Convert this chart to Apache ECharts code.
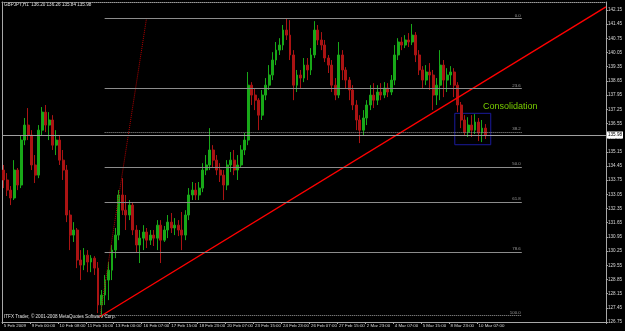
<!DOCTYPE html>
<html>
<head>
<meta charset="utf-8">
<script src="https://cdn.jsdelivr.net/npm/echarts@6/dist/echarts.min.js"></script>
<style>
html,body{margin:0;padding:0;background:#000;}
#chart{width:625px;height:331px;}
</style>
</head>
<body>
<div id="chart"></div>
<script>
// ---- data (GBPJPY H1, shown here as 4-hour candles) ----
const title = "GBPJPY,H1  136.20 136.26 135.84 135.98";
const copyright = "ITFX Trader, \u00A9 2001-2008 MetaQuotes Software Corp.";
const xTickLabels = ["5 Feb 2009","9 Feb 00:00","10 Feb 08:00","11 Feb 16:00","13 Feb 00:00","16 Feb 07:00","17 Feb 15:00","18 Feb 23:00","20 Feb 07:00","23 Feb 15:00","24 Feb 23:00","26 Feb 07:00","27 Feb 15:00","2 Mar 23:00","4 Mar 07:00","5 Mar 15:00","8 Mar 23:00","10 Mar 07:00"];
const yTickValues = [126.75,127.45,128.15,128.85,129.55,130.25,130.95,131.65,132.35,133.05,133.75,134.45,135.15,135.85,136.55,137.25,137.95,138.65,139.35,140.05,140.75,141.45,142.15];

const opens = [134.25,133.76,133.26,132.87,134.25,133.51,135.73,136.47,135.98,134.50,
134.00,136.22,137.11,136.47,136.72,135.48,135.73,134.74,134.25,132.03,
131.04,131.29,129.81,129.56,130.05,129.71,129.90,129.41,127.59,128.08,
128.82,129.31,130.30,131.04,133.02,132.27,132.03,132.52,131.29,130.55,
130.89,131.19,130.79,131.04,130.89,131.53,130.79,131.29,131.68,131.39,
131.53,131.29,131.04,132.03,133.02,133.26,133.02,133.36,134.25,134.50,
135.24,134.74,134.25,134.00,133.51,134.50,134.74,134.25,134.50,135.24,
135.73,138.44,137.95,137.70,136.96,137.95,138.44,138.94,139.68,140.17,
140.42,141.16,140.91,139.93,138.44,138.94,138.79,139.43,139.19,139.93,
141.16,140.67,140.42,139.78,139.43,138.44,137.95,139.93,139.19,138.69,
138.20,137.46,136.72,136.22,136.82,137.46,137.95,137.70,138.10,137.95,
138.30,138.10,138.69,139.93,140.57,140.42,140.67,140.57,140.91,139.93,
139.19,138.69,139.09,138.94,137.95,138.44,139.43,138.69,138.94,139.09,
138.44,137.46,136.72,136.12,136.47,136.22,136.62,136.08,136.32];
const closes = [133.76,133.26,132.87,134.25,133.51,135.73,136.47,135.98,134.50,134.00,
136.22,137.11,136.47,136.72,135.48,135.73,134.74,134.25,132.03,131.04,
131.29,129.81,129.56,130.05,129.71,129.90,129.41,127.59,128.08,128.82,
129.31,130.30,131.04,133.02,132.27,132.03,132.52,131.29,130.55,130.89,
131.19,130.79,131.04,130.89,131.53,130.79,131.29,131.68,131.39,131.53,
131.29,131.04,132.03,133.02,133.26,133.02,133.36,134.25,134.50,135.24,
134.74,134.25,134.00,133.51,134.50,134.74,134.25,134.50,135.24,135.73,
138.44,137.95,137.70,136.96,137.95,138.44,138.94,139.68,140.17,140.42,
141.16,140.91,139.93,138.44,138.94,138.79,139.43,139.19,139.93,141.16,
140.67,140.42,139.78,139.43,138.44,137.95,139.93,139.19,138.69,138.20,
137.46,136.72,136.22,136.82,137.46,137.95,137.70,138.10,137.95,138.30,
138.10,138.69,139.93,140.57,140.42,140.67,140.57,140.91,139.93,139.19,
138.69,139.09,138.94,137.95,138.44,139.43,138.69,138.94,139.09,138.44,
137.46,136.72,136.12,136.47,136.22,136.62,136.08,136.32,135.98];
const lows = [133.36,132.97,132.52,132.77,133.26,133.36,135.48,135.73,134.25,133.61,
133.85,135.98,136.12,135.73,135.24,134.99,134.50,133.76,131.68,130.30,
130.70,129.41,128.82,129.31,129.21,129.21,129.07,127.19,126.99,127.59,
127.83,128.82,129.90,130.79,132.03,131.29,131.78,131.04,130.20,129.66,
130.30,130.40,130.55,130.50,130.30,129.66,130.70,130.89,131.14,131.04,
130.99,130.30,130.79,131.78,132.77,132.77,132.77,133.16,134.00,134.25,
134.35,134.00,133.66,132.77,133.26,134.15,134.00,133.76,134.35,134.99,
135.48,137.46,137.21,136.22,136.72,137.70,138.20,138.69,139.43,139.93,
140.17,140.67,139.68,137.70,138.10,138.30,138.59,138.69,138.94,139.78,
140.42,140.17,139.58,139.04,138.10,137.70,137.80,138.69,138.30,137.70,
137.21,136.22,135.58,135.98,136.47,137.21,137.31,137.46,137.70,137.80,
137.85,137.95,138.44,139.68,140.17,140.27,140.32,140.42,139.58,138.94,
138.30,138.44,138.20,137.21,137.46,137.70,137.85,138.10,138.44,137.85,
137.11,136.32,135.93,135.88,135.88,136.03,135.68,135.63,135.78];
const highs = [134.50,134.10,133.46,134.74,134.35,135.98,136.82,137.31,136.22,134.99,
136.47,137.36,137.46,137.11,136.96,136.22,135.98,135.24,134.50,132.27,
131.68,131.39,130.30,130.40,130.30,130.05,130.00,129.71,128.33,129.07,
129.71,130.55,131.39,133.26,133.85,133.02,132.77,132.67,131.53,131.29,
131.53,131.39,131.29,131.29,131.78,131.78,131.49,132.03,132.13,131.88,
131.78,132.18,132.27,133.36,133.66,133.61,133.66,134.59,134.99,136.32,
135.48,134.99,134.59,134.25,134.74,135.14,135.24,134.99,135.48,136.08,
139.09,138.59,138.30,137.80,138.20,138.79,139.43,140.07,140.57,140.76,
141.41,141.75,141.65,140.17,139.19,139.19,139.78,139.78,140.27,141.60,
141.41,141.06,140.67,139.93,139.68,138.79,140.57,140.17,139.33,138.84,
138.44,137.70,136.96,137.21,137.70,138.44,138.54,138.44,138.54,138.59,
138.54,138.94,140.42,140.76,140.81,140.91,141.01,141.46,141.06,140.17,
139.38,139.43,139.53,139.19,138.79,140.17,139.68,139.28,139.38,139.28,
138.59,137.61,136.96,136.86,136.96,137.01,136.82,136.72,136.52];

const lastPrice = 135.98;
// drawn objects, in (4-hour bar units, price)
const trendX = [28.0, 173];
const trendPrice = [127.01, 142.30];
const fibDiagX = [28.1, 41.4];
const fibDiagPrice = [127.06, 141.74];
const fibNames = ["0.0","23.6","38.2","50.0","61.8","78.6","100.0"];
const fibPrices = [141.74, 138.28, 136.13, 134.40, 132.67, 130.20, 127.06];
const fibDotted = [false, false, true, false, false, false, true];
const fibStartX = [29.4, 29.4, 29.4, 29.4, 29.4, 29.4, 28.0];
const fibEndX = 148.9;
const boxX = [129.7, 140.0];
const boxPrice = [137.05, 135.50];
const noteText = "Consolidation";

// ---- chart ----
const SLOTS = 173;
const categories = Array.from({length: SLOTS}, (_, i) => String(i));
const showTick = (i) => i % 8 === 0 && (i / 8) < xTickLabels.length;
const FONT = 'Liberation Sans';

const chart = echarts.init(document.getElementById('chart'), null, {renderer: 'canvas'});
chart.setOption({
  animation: false,
  backgroundColor: '#000000',
  grid: {left: 2, right: 17.5, top: 2, bottom: 9, containLabel: false},
  xAxis: [{
    type: 'category', data: categories, boundaryGap: true, position: 'bottom',
    axisLine: {show: true, lineStyle: {color: '#a8a8a8', width: 1}},
    axisTick: {show: true, interval: showTick, length: 2, lineStyle: {color: '#a8a8a8'}},
    axisLabel: {interval: showTick, formatter: (v, i) => xTickLabels[i / 8] || '',
      align: 'left', margin: 2, color: '#d8d8d8', fontSize: 4.4, fontFamily: FONT},
    splitLine: {show: false}
  }, {
    type: 'value', min: 0, max: SLOTS, position: 'top',
    axisLine: {show: true, onZero: false, lineStyle: {color: '#9a9a9a', type: 'dotted'}},
    axisTick: {show: false}, axisLabel: {show: false}, splitLine: {show: false}
  }],
  yAxis: [{
    type: 'value', min: 126.75, max: 142.545, position: 'right', scale: true,
    axisLine: {show: true, onZero: false, lineStyle: {color: '#a8a8a8'}},
    axisTick: {show: true, customValues: yTickValues, length: 2, lineStyle: {color: '#a8a8a8'}},
    axisLabel: {customValues: yTickValues, formatter: (v) => v.toFixed(2), margin: 2,
      color: '#d8d8d8', fontSize: 4.6, fontFamily: FONT},
    splitLine: {show: false}
  }, {
    type: 'value', min: 126.75, max: 142.545, position: 'left', scale: true,
    axisLine: {show: true, onZero: false, lineStyle: {color: '#a8a8a8'}},
    axisTick: {show: false}, axisLabel: {show: false}, splitLine: {show: false}
  }],
  series: [{
    type: 'candlestick', xAxisIndex: 0, yAxisIndex: 0,
    data: opens.map((o, i) => [o, closes[i], lows[i], highs[i]]),
    barWidth: 2.4,
    itemStyle: {color: '#18a818', color0: '#aa1313', borderColor: '#18a818', borderColor0: '#aa1313', borderWidth: 1},
    markLine: {
      silent: true, symbol: 'none', precision: 2,
      lineStyle: {color: '#a0a0a0', type: 'solid', width: 1},
      label: {show: true, position: 'end', formatter: lastPrice.toFixed(2), distance: 1,
        backgroundColor: '#ffffff', color: '#000000', fontSize: 4.6, fontFamily: FONT, padding: [1, 1]},
      data: [{yAxis: lastPrice}]
    }
  }, {
    type: 'line', xAxisIndex: 1, yAxisIndex: 0, symbol: 'none',
    data: fibDiagX.map((x, i) => [x, fibDiagPrice[i]]),
    lineStyle: {color: '#b00000', width: 1, type: 'dotted'},
    markLine: {
      silent: true, symbol: 'none',
      label: {show: true, position: 'insideEndTop', formatter: '{b}', color: '#9a9a9a',
        fontSize: 4.4, fontFamily: FONT, distance: 1},
      data: fibPrices.map((p, i) => [
        {coord: [fibStartX[i], p], name: fibNames[i],
         lineStyle: {color: fibDotted[i] ? '#9a9a9a' : '#8c8c8c', width: 1, type: fibDotted[i] ? 'dotted' : 'solid'}},
        {coord: [fibEndX, p]}
      ])
    },
    markArea: {
      silent: true,
      itemStyle: {color: 'rgba(0,0,0,0)', borderColor: '#1a1a9c', borderWidth: 1},
      data: [[{coord: [boxX[0], boxPrice[0]]}, {coord: [boxX[1], boxPrice[1]]}]]
    }
  }, {
    type: 'line', xAxisIndex: 1, yAxisIndex: 0, symbol: 'none',
    data: trendX.map((x, i) => [x, trendPrice[i]]),
    lineStyle: {color: '#ff0000', width: 1.4}
  }],
  graphic: [
    {type: 'text', left: 4, top: 2, style: {text: title, fill: '#e0e0e0', font: '4.6px "Liberation Sans"'}},
    {type: 'text', left: 4, top: 314, style: {text: copyright, fill: '#e0e0e0', font: '4.6px "Liberation Sans"'}},
    {type: 'text', left: 483, top: 102, style: {text: noteText, fill: '#78cc00', font: '9px "Liberation Sans"'}}
  ]
});
</script>
</body>
</html>
